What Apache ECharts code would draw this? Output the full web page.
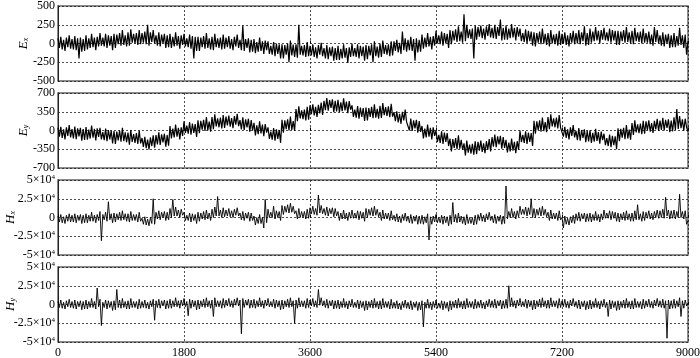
<!DOCTYPE html>
<html>
<head>
<meta charset="utf-8">
<script src="https://cdn.jsdelivr.net/npm/echarts@6/dist/echarts.min.js"></script>
<style>html,body{margin:0;padding:0;background:#fff;}#c{width:700px;height:358px;}</style>
</head>
<body>
<div id="c"></div>
<script>
// sample spacing along the x axis (time index)
const STEP = 20;
const xTicks = [0, 1800, 3600, 5400, 7200, 9000];

const ex = [
70,-60,90,-80,50,-100,80,-50,110,-70,
60,-80,100,-90,70,-200,80,-110,60,-100,
110,-80,70,-60,130,-50,80,-90,90,-40,
140,-30,80,-40,130,-60,110,-30,100,-90,
130,-60,120,-10,140,-30,180,-20,110,-40,
150,-30,190,10,130,0,140,-20,180,-10,
140,10,160,-10,250,-30,150,20,180,0,
110,-30,150,-40,120,0,130,-60,110,-50,
130,-60,90,-40,150,-30,100,-70,110,-20,
130,-40,70,-50,120,-70,100,-200,90,-100,
90,-100,80,-50,100,-70,140,-60,70,-80,
90,-90,130,-50,70,-60,80,-80,120,-70,
80,-50,100,-70,60,-90,90,-40,120,-60,
50,-90,240,-100,60,-60,70,-120,50,-110,
60,-130,20,-110,80,-100,30,-140,40,-90,
30,-140,-30,-150,20,-170,0,-140,-10,-200,
-10,-200,-20,-150,0,-250,40,-160,-15,-180,
-10,-190,250,-150,-30,-160,-20,-180,20,-170,
-30,-160,-10,-180,-50,-200,-20,-150,10,-170,
-60,-200,-20,-210,-50,-170,-40,-230,-60,-220,
-30,-220,-70,-200,-10,-190,-60,-260,-50,-180,
0,-170,-60,-180,-10,-200,-30,-170,-40,-230,
-20,-210,-30,-160,-10,-250,30,-170,-40,-190,
0,-180,40,-140,-20,-150,-10,-170,30,-160,
30,-100,50,-120,10,-140,160,-90,70,-110,
50,-90,90,-100,60,-230,70,-120,50,-110,
120,-70,80,-50,140,-40,90,-80,100,-30,
170,0,110,-10,160,-30,140,0,130,-60,
180,-10,170,40,190,20,230,30,160,10,
390,30,250,70,190,60,200,-200,240,50,
220,90,240,70,200,50,230,100,260,80,
210,70,250,60,220,100,320,40,210,50,
240,50,200,70,260,80,210,40,220,90,
200,30,140,20,190,0,170,30,160,-30,
150,-40,140,10,160,-10,200,0,130,-20,
140,-40,180,0,120,-10,130,-30,170,-20,
130,0,150,-20,110,-40,140,10,170,-10,
140,0,180,-10,150,30,230,-30,140,-20,
200,10,160,30,220,40,170,0,180,50,
210,40,150,30,200,10,180,40,170,-20,
170,-20,160,30,180,10,220,20,150,0,
170,-10,210,30,150,20,160,0,200,10,
140,10,160,-10,120,-30,220,20,180,0,
110,-30,150,-40,120,0,130,-60,110,-50,
140,-50,100,-30,210,-20,110,-60,120,-150,
30
];

const ey = [
50,-115,70,-140,20,-165,60,-100,100,-130,
25,-150,75,-160,40,-110,50,-190,25,-175,
65,-170,15,-150,90,-135,30,-185,40,-120,
50,-165,-30,-180,35,-200,10,-165,0,-240,
-10,-250,-20,-185,0,-210,50,-200,-35,-220,
-40,-265,10,-215,-65,-230,-50,-250,0,-240,
-140,-305,-120,-330,-170,-355,-130,-290,-90,-320,
-85,-260,-35,-270,-70,-220,-60,-300,-85,-285,
85,-150,35,-130,110,-115,50,-165,60,-100,
170,-45,90,-60,155,-80,130,-45,120,-120,
190,-50,180,15,200,-10,250,0,165,-20,
250,25,300,75,225,60,240,40,290,50,
260,95,280,70,230,45,270,110,310,80,
195,20,245,10,210,60,220,-20,195,-5,
145,-90,95,-70,170,-55,110,-105,120,-40,
60,-155,-20,-170,45,-190,20,-155,10,-230,
200,-40,190,25,210,0,260,10,175,-10,
400,175,450,225,375,210,390,190,440,200,
470,305,490,280,440,255,480,320,520,290,
555,380,605,370,570,420,580,340,555,355,
575,340,525,360,600,375,540,325,550,390,
470,255,390,240,455,220,430,255,420,180,
430,190,420,255,440,230,490,240,405,220,
460,235,510,285,435,270,450,250,500,260,
340,175,360,150,310,125,350,190,390,160,
175,0,225,-10,190,40,200,-40,175,-25,
85,-150,35,-130,110,-115,50,-165,60,-100,
0,-215,-80,-230,-15,-250,-40,-215,-50,-290,
-150,-390,-160,-325,-140,-350,-90,-340,-175,-360,
-240,-465,-190,-415,-265,-430,-250,-450,-200,-440,
-210,-375,-190,-400,-240,-425,-200,-360,-160,-390,
-125,-300,-75,-310,-110,-260,-100,-340,-125,-325,
-175,-410,-225,-390,-150,-375,-210,-425,-200,-360,
0,-215,-80,-230,-15,-250,-40,-215,-50,-290,
180,-60,170,5,190,-20,240,-10,155,-30,
250,25,300,75,225,60,240,40,290,50,
50,-115,70,-140,20,-165,60,-100,100,-130,
-5,-180,45,-190,10,-140,20,-220,-5,-205,
5,-230,-45,-210,30,-195,-30,-245,-20,-180,
-60,-275,-140,-290,-75,-310,-100,-275,-110,-350,
40,-200,30,-135,50,-160,100,-150,15,-170,
140,-85,190,-35,115,-50,130,-70,180,-60,
170,5,190,-20,140,-45,180,20,220,-10,
185,10,235,0,200,50,210,-30,185,-15,
245,10,400,30,270,45,210,-5,220,60,
-20
];

const hx = [
2000,-6000,4000,-7000,1000,-8000,3000,-5000,5000,-6000,
3000,-6000,5000,-7000,3000,-4000,4000,-8000,3000,-7000,
5000,-7000,3000,-5000,7000,-5000,3000,-7000,4000,-4000,
8000,-31000,4000,-3000,7000,-5000,21000,-3000,5000,-7000,
6000,-6000,5000,-3000,7000,-4000,9000,-3000,5000,-5000,
5000,-6000,8000,-4000,4000,-4000,4000,-6000,7000,-5000,
-1000,-9000,1000,-10000,-2000,-11000,0,-8000,25000,-9000,
7000,-2000,9000,-3000,7000,0,8000,-4000,7000,-3000,
12000,0,24000,2000,14000,2000,10000,0,11000,3000,
7000,-4000,3000,-4000,6000,-6000,5000,-4000,4000,-8000,
7000,-5000,6000,-2000,8000,-3000,10000,-2000,6000,-4000,
11000,0,14000,2000,28000,2000,10000,0,13000,1000,
10000,2000,12000,1000,9000,0,11000,3000,13000,2000,
6000,-3000,8000,-4000,6000,-1000,7000,-5000,6000,-4000,
2000,-10000,0,-8000,4000,-8000,0,-14000,24000,-7000,
11000,0,7000,0,15000,-2000,9000,0,8000,-4000,
16000,4000,15000,7000,17000,6000,19000,7000,15000,5000,
9000,-2000,12000,0,8000,0,8000,-2000,11000,-1000,
13000,5000,15000,4000,12000,3000,30000,6000,16000,5000,
12000,3000,14000,2000,12000,5000,13000,1000,12000,2000,
8000,-4000,6000,-2000,10000,-2000,6000,-4000,7000,-1000,
10000,-1000,6000,-1000,9000,-3000,8000,-1000,7000,-5000,
12000,0,11000,3000,13000,2000,15000,3000,11000,1000,
7000,-4000,10000,-2000,6000,-2000,6000,-4000,9000,-3000,
3000,-5000,5000,-6000,2000,-7000,4000,-4000,6000,-5000,
2000,-7000,4000,-8000,2000,-5000,3000,-9000,2000,-8000,
3000,-9000,1000,-7000,5000,-30000,1000,-9000,2000,-6000,
4000,-7000,0,-7000,3000,-9000,2000,-7000,1000,-11000,
3000,-9000,20000,-6000,4000,-7000,6000,-6000,2000,-8000,
1000,-10000,4000,-8000,0,-8000,0,-10000,3000,-9000,
4000,-4000,6000,-5000,3000,-6000,5000,-3000,7000,-4000,
2000,-7000,4000,-8000,2000,-5000,3000,-9000,2000,-8000,
42000,-2000,8000,0,12000,0,8000,-2000,9000,1000,
15000,4000,11000,4000,14000,2000,13000,4000,25000,0,
12000,0,11000,3000,13000,2000,15000,3000,11000,1000,
7000,-4000,10000,-2000,6000,-2000,6000,-4000,9000,-3000,
0,-14000,2000,-9000,-1000,-10000,1000,-7000,3000,-8000,
5000,-4000,7000,-5000,5000,-2000,6000,-6000,5000,-5000,
6000,-6000,4000,-4000,8000,-4000,4000,-6000,5000,-3000,
10000,-1000,6000,-1000,9000,-3000,8000,-1000,7000,-5000,
6000,-6000,5000,-3000,7000,-4000,9000,-3000,5000,-5000,
6000,-5000,9000,-3000,17000,-3000,5000,-5000,8000,-4000,
7000,-1000,9000,-2000,6000,-3000,8000,0,10000,-1000,
9000,0,11000,-1000,27000,2000,10000,-2000,9000,-1000,
10000,-2000,8000,0,31000,0,8000,-2000,9000,-9000,
-4000
];

const hy = [
4000,-4000,6000,-5000,3000,-6000,5000,-3000,7000,-4000,
4000,-5000,6000,-6000,4000,-3000,5000,-7000,4000,-6000,
6000,-6000,4000,-4000,8000,-4000,4000,-6000,22000,-3000,
7000,-28000,3000,-4000,6000,-6000,5000,-4000,4000,-8000,
5000,-7000,20000,-4000,6000,-5000,8000,-4000,4000,-6000,
5000,-6000,8000,-4000,4000,-4000,4000,-6000,7000,-5000,
4000,-4000,6000,-5000,3000,-6000,5000,-3000,7000,-21000,
5000,-4000,7000,-5000,5000,-2000,6000,-6000,5000,-5000,
7000,-5000,5000,-3000,9000,-3000,5000,-5000,6000,-2000,
8000,-3000,4000,-15000,7000,-5000,6000,-3000,5000,-7000,
6000,-6000,5000,-3000,7000,-4000,9000,-3000,5000,-5000,
6000,-16000,9000,-3000,5000,-3000,5000,-5000,8000,-4000,
6000,-2000,8000,-3000,5000,-4000,7000,-1000,9000,-2000,
6000,-39000,8000,-4000,6000,-1000,7000,-5000,6000,-4000,
7000,-5000,5000,-3000,9000,-3000,5000,-5000,6000,-2000,
8000,-3000,4000,-3000,7000,-5000,6000,-3000,5000,-7000,
6000,-6000,5000,-3000,7000,-4000,9000,-3000,5000,-25000,
6000,-5000,9000,-3000,5000,-3000,5000,-5000,8000,-4000,
6000,-2000,8000,-3000,5000,-4000,20000,-1000,9000,-2000,
5000,-4000,7000,-5000,5000,-2000,6000,-6000,5000,-5000,
6000,-6000,4000,-4000,8000,-4000,4000,-6000,5000,-3000,
7000,-4000,3000,-4000,6000,-6000,5000,-4000,4000,-8000,
5000,-7000,4000,-4000,6000,-5000,8000,-4000,4000,-6000,
5000,-6000,8000,-4000,4000,-4000,4000,-6000,7000,-5000,
3000,-5000,5000,-6000,2000,-7000,4000,-4000,6000,-5000,
3000,-6000,5000,-7000,3000,-4000,4000,-8000,3000,-7000,
5000,-30000,3000,-5000,7000,-5000,3000,-7000,4000,-4000,
6000,-5000,2000,-5000,5000,-7000,4000,-5000,3000,-9000,
5000,-7000,4000,-4000,6000,-5000,8000,-4000,4000,-6000,
5000,-6000,8000,-4000,4000,-4000,4000,-6000,7000,-5000,
4000,-4000,6000,-5000,3000,-6000,5000,-3000,7000,-4000,
5000,-4000,7000,-5000,5000,-2000,6000,-6000,5000,-5000,
7000,-5000,25000,-3000,9000,-3000,5000,-5000,6000,-2000,
8000,-3000,4000,-3000,7000,-5000,6000,-3000,5000,-7000,
6000,-6000,5000,-3000,7000,-4000,9000,-3000,5000,-5000,
6000,-5000,9000,-3000,5000,-3000,5000,-5000,8000,-4000,
5000,-3000,7000,-4000,4000,-5000,6000,-2000,8000,-3000,
4000,-5000,6000,-6000,4000,-3000,5000,-7000,4000,-6000,
6000,-6000,4000,-4000,8000,-4000,4000,-6000,5000,-3000,
7000,-4000,3000,-16000,6000,-6000,5000,-4000,4000,-8000,
5000,-7000,4000,-4000,6000,-5000,8000,-4000,4000,-6000,
5000,-6000,8000,-4000,4000,-4000,4000,-6000,7000,-5000,
5000,-3000,7000,-4000,4000,-5000,6000,-2000,8000,-3000,
5000,-4000,7000,-5000,5000,-45000,6000,-6000,5000,-5000,
7000,-5000,5000,-3000,9000,-16000,5000,-5000,6000,-2000,
2000
];

const panels = [
  {name: 'x', kind: 'E', data: ex, min: -500, max: 500, interval: 250},
  {name: 'y', kind: 'E', data: ey, min: -700, max: 700, interval: 350},
  {name: 'x', kind: 'H', data: hx, min: -50000, max: 50000, interval: 25000},
  {name: 'y', kind: 'H', data: hy, min: -50000, max: 50000, interval: 25000}
];

const FONT = 'Liberation Serif';
const tops = [6, 93, 180, 267];
const H = 75;

function hLabel(v) {
  if (v === 0) return '0';
  const sign = v < 0 ? '-' : '';
  const m = Math.abs(v) / 10000;
  return sign + m + '×10{s|4}';
}

const grids = [], xAxes = [], yAxes = [], series = [];
panels.forEach((p, i) => {
  grids.push({left: 58, right: 12, top: tops[i], height: H, show: true,
    outerBoundsMode: 'none', containLabel: false,
    borderColor: '#666', borderWidth: 1.5, backgroundColor: 'transparent'});
  xAxes.push({
    type: 'value', gridIndex: i, min: xTicks[0], max: xTicks[xTicks.length - 1], interval: 1800,
    axisLine: {show: false},
    axisTick: {show: true, inside: true, length: 3, lineStyle: {color: '#000'}},
    splitLine: {show: true, lineStyle: {color: '#222', type: [2, 2], width: 0.8}},
    axisLabel: {show: i === 3, color: '#000', fontFamily: FONT, fontSize: 12, margin: 5,
      formatter: (v) => String(v)}
  });
  yAxes.push({
    type: 'value', gridIndex: i, min: p.min, max: p.max, interval: p.interval,
    axisLine: {show: true, lineStyle: {color: '#222', width: 1}},
    axisTick: {show: false},
    splitLine: {show: true, lineStyle: {color: '#222', type: [2, 2], width: 0.8}},
    axisLabel: {
      color: '#000', fontFamily: FONT, fontSize: 12, margin: 3,
      formatter: p.kind === 'H' ? hLabel : (v) => String(v),
      rich: {s: {fontSize: 7, fontFamily: FONT, color: '#000', verticalAlign: 'top', padding: [0, 0, 6, 0]}}
    },
    name: '{i|' + p.kind + '}{b|' + p.name + '}',
    nameLocation: 'middle', nameRotate: 90, nameMoveOverlap: false,
    nameGap: p.kind === 'H' ? 41 : 28,
    nameTextStyle: {
      rich: {
        i: {fontFamily: FONT, fontStyle: 'italic', fontSize: 13, color: '#000'},
        b: {fontFamily: FONT, fontStyle: 'italic', fontSize: 8, color: '#000', verticalAlign: 'bottom', padding: [5, 0, 0, 0]}
      }
    }
  });
  series.push({
    type: 'line', xAxisIndex: i, yAxisIndex: i,
    data: p.data.map((v, k) => [k * STEP, v]),
    showSymbol: false, symbol: 'none', sampling: null,
    lineStyle: {color: '#000', width: p.kind === 'E' ? 1.2 : 0.9},
    animation: false, silent: true
  });
});

const chart = echarts.init(document.getElementById('c'), null, {renderer: 'canvas'});
chart.setOption({
  animation: false,
  backgroundColor: '#fff',
  grid: grids, xAxis: xAxes, yAxis: yAxes, series: series
});
</script>
</body>
</html>
